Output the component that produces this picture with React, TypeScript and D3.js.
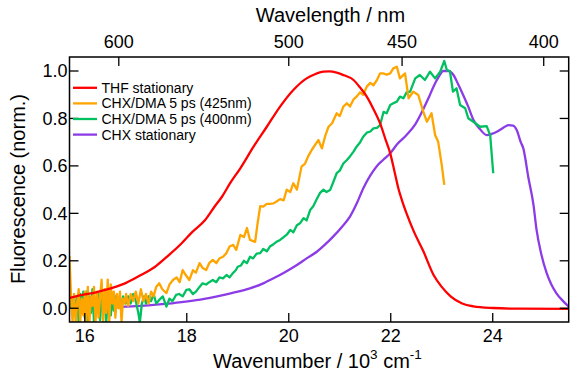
import React from "react";
import * as d3 from "d3";

// ---------- data ----------
const seriesNames = ["THF stationary", "CHX/DMA 5 ps (425nm)", "CHX/DMA 5 ps (400nm)", "CHX stationary"];
const seriesColors = ["#ff0000", "#ffa500", "#00c060", "#8c3ce6"];

const thfX = [15.7, 15.81, 16.0, 16.2, 16.4, 16.6, 16.8, 16.92, 17.1, 17.38, 17.6, 17.9, 18.1, 18.36, 18.55, 18.69, 18.85, 19.05, 19.31, 19.57, 19.83, 20.09, 20.35, 20.5, 20.68, 20.8, 20.94, 21.05, 21.27, 21.4, 21.53, 21.66, 21.79, 21.9, 21.99, 22.07, 22.15, 22.22, 22.31, 22.45, 22.64, 22.84, 23.0, 23.18, 23.4, 23.62, 24.0, 24.5, 25.5];
const thfY = [0.043, 0.049, 0.058, 0.066, 0.077, 0.09, 0.106, 0.119, 0.14, 0.175, 0.215, 0.274, 0.32, 0.372, 0.43, 0.47, 0.527, 0.59, 0.681, 0.765, 0.85, 0.92, 0.969, 0.985, 0.997, 0.998, 0.993, 0.985, 0.962, 0.93, 0.892, 0.84, 0.78, 0.71, 0.653, 0.58, 0.505, 0.455, 0.4, 0.325, 0.24, 0.14, 0.09, 0.049, 0.02, 0.008, 0.001, -0.002, -0.003];

const dma425X = [15.7, 15.73, 15.76, 15.79, 15.82, 15.85, 15.88, 15.91, 15.94, 15.97, 16.0, 16.03, 16.06, 16.09, 16.12, 16.15, 16.18, 16.21, 16.24, 16.27, 16.3, 16.33, 16.36, 16.39, 16.42, 16.45, 16.48, 16.51, 16.54, 16.57, 16.6, 16.63, 16.66, 16.69, 16.72, 16.75, 16.78, 16.81, 16.85, 16.9, 16.95, 17.0, 17.05, 17.1, 17.15, 17.2, 17.25, 17.3, 17.35, 17.4, 17.46, 17.52, 17.6, 17.66, 17.73, 17.8, 17.86, 17.92, 17.98, 18.05, 18.12, 18.18, 18.25, 18.31, 18.38, 18.44, 18.51, 18.58, 18.64, 18.71, 18.77, 18.84, 18.91, 18.97, 19.05, 19.12, 19.18, 19.24, 19.34, 19.39, 19.44, 19.5, 19.57, 19.63, 19.7, 19.76, 19.83, 19.9, 19.96, 20.03, 20.09, 20.16, 20.25, 20.32, 20.38, 20.45, 20.52, 20.58, 20.65, 20.72, 20.78, 20.85, 20.94, 21.0, 21.07, 21.14, 21.2, 21.27, 21.33, 21.4, 21.46, 21.53, 21.6, 21.66, 21.73, 21.79, 21.85, 21.92, 21.99, 22.05, 22.12, 22.18, 22.28, 22.35, 22.44, 22.54, 22.64, 22.71, 22.8, 22.87, 22.93, 23.0, 23.05];
const dma425Y = [0.22, 0.05, -0.06, 0.06, -0.06, 0.02, 0.08, -0.06, 0.04, -0.03, 0.07, -0.06, 0.09, -0.06, 0.05, 0.01, 0.09, -0.06, 0.07, -0.04, 0.05, 0.12, -0.06, 0.08, -0.02, 0.12, -0.06, 0.1, 0.02, 0.07, -0.04, 0.06, 0.0, 0.07, -0.06, 0.04, 0.02, 0.06, 0.01, 0.06, 0.03, 0.07, 0.02, 0.08, 0.03, 0.06, 0.02, 0.07, 0.05, 0.09, 0.105, 0.08, 0.064, 0.1, 0.119, 0.13, 0.11, 0.161, 0.14, 0.119, 0.16, 0.15, 0.19, 0.17, 0.161, 0.19, 0.204, 0.19, 0.21, 0.217, 0.23, 0.26, 0.267, 0.246, 0.309, 0.3, 0.338, 0.288, 0.28, 0.36, 0.43, 0.428, 0.44, 0.44, 0.442, 0.45, 0.46, 0.455, 0.5, 0.49, 0.527, 0.5, 0.597, 0.61, 0.64, 0.667, 0.69, 0.709, 0.674, 0.73, 0.765, 0.78, 0.822, 0.81, 0.85, 0.864, 0.85, 0.88, 0.892, 0.91, 0.9, 0.934, 0.95, 0.94, 0.962, 0.99, 0.99, 0.985, 0.99, 1.011, 1.018, 0.969, 0.99, 0.885, 0.913, 0.899, 0.828, 0.786, 0.822, 0.73, 0.702, 0.604, 0.52];

const dma400X = [15.7, 15.73, 15.76, 15.79, 15.82, 15.85, 15.88, 15.91, 15.94, 15.97, 16.0, 16.03, 16.06, 16.09, 16.12, 16.15, 16.18, 16.21, 16.24, 16.27, 16.3, 16.33, 16.36, 16.39, 16.42, 16.45, 16.48, 16.51, 16.54, 16.57, 16.6, 16.63, 16.66, 16.7, 16.75, 16.8, 16.85, 16.9, 16.95, 17.0, 17.05, 17.08, 17.12, 17.16, 17.2, 17.25, 17.3, 17.35, 17.4, 17.46, 17.53, 17.6, 17.66, 17.72, 17.79, 17.85, 17.92, 17.99, 18.05, 18.12, 18.18, 18.25, 18.31, 18.38, 18.44, 18.51, 18.58, 18.64, 18.71, 18.78, 18.84, 18.9, 18.96, 19.0, 19.06, 19.12, 19.18, 19.24, 19.3, 19.37, 19.44, 19.5, 19.57, 19.63, 19.7, 19.76, 19.83, 19.9, 19.96, 20.03, 20.09, 20.16, 20.22, 20.29, 20.35, 20.42, 20.48, 20.55, 20.61, 20.68, 20.74, 20.81, 20.87, 20.94, 21.0, 21.07, 21.14, 21.2, 21.27, 21.33, 21.4, 21.46, 21.53, 21.6, 21.66, 21.73, 21.79, 21.86, 21.92, 21.99, 22.05, 22.12, 22.18, 22.25, 22.31, 22.38, 22.48, 22.57, 22.67, 22.77, 22.87, 22.97, 23.05, 23.1, 23.16, 23.22, 23.29, 23.36, 23.46, 23.52, 23.62, 23.75, 23.88, 23.95, 24.01];
const dma400Y = [0.0, 0.05, -0.02, 0.04, 0.0, 0.05, -0.06, 0.06, 0.0, 0.07, -0.04, 0.07, -0.06, 0.05, -0.02, 0.08, -0.06, 0.04, 0.0, 0.06, -0.05, 0.04, 0.0, 0.05, -0.06, 0.03, 0.06, -0.03, 0.04, -0.01, 0.05, 0.01, 0.04, 0.0, 0.05, 0.02, 0.05, 0.02, 0.06, 0.03, -0.02, -0.06, 0.02, 0.05, 0.02, 0.05, 0.03, 0.06, 0.02, 0.035, 0.05, 0.007, 0.04, 0.03, 0.056, 0.06, 0.05, 0.077, 0.08, 0.06, 0.07, 0.09, 0.105, 0.1, 0.11, 0.119, 0.11, 0.13, 0.126, 0.14, 0.13, 0.147, 0.16, 0.175, 0.18, 0.2, 0.19, 0.217, 0.21, 0.23, 0.232, 0.25, 0.24, 0.26, 0.27, 0.28, 0.288, 0.3, 0.31, 0.33, 0.32, 0.35, 0.358, 0.38, 0.37, 0.414, 0.43, 0.46, 0.485, 0.5, 0.49, 0.498, 0.53, 0.569, 0.58, 0.61, 0.625, 0.64, 0.66, 0.681, 0.7, 0.723, 0.74, 0.745, 0.758, 0.76, 0.772, 0.828, 0.822, 0.857, 0.864, 0.871, 0.892, 0.885, 0.91, 0.913, 0.969, 0.983, 0.962, 0.997, 0.969, 0.997, 1.042, 1.004, 1.0, 0.913, 0.927, 0.857, 0.843, 0.801, 0.786, 0.765, 0.768, 0.73, 0.569];

const chxX = [15.7, 16.0, 16.5, 16.92, 17.25, 17.57, 17.9, 18.23, 18.55, 18.88, 19.24, 19.5, 19.7, 19.95, 20.16, 20.35, 20.55, 20.72, 20.87, 21.05, 21.2, 21.33, 21.46, 21.6, 21.73, 21.85, 21.99, 22.12, 22.31, 22.48, 22.64, 22.75, 22.84, 22.94, 23.03, 23.13, 23.23, 23.32, 23.42, 23.52, 23.62, 23.75, 23.88, 23.98, 24.08, 24.2, 24.31, 24.4, 24.47, 24.55, 24.6, 24.7, 24.8, 24.86, 24.95, 25.06, 25.15, 25.25, 25.38, 25.49];
const chxY = [0.003, 0.004, 0.005, 0.008, 0.012, 0.018, 0.026, 0.035, 0.048, 0.064, 0.084, 0.105, 0.126, 0.155, 0.182, 0.21, 0.238, 0.27, 0.302, 0.345, 0.386, 0.44, 0.505, 0.56, 0.6, 0.625, 0.653, 0.69, 0.73, 0.775, 0.84, 0.89, 0.935, 0.975, 1.0, 1.0, 0.983, 0.945, 0.899, 0.85, 0.795, 0.755, 0.73, 0.735, 0.744, 0.76, 0.772, 0.77, 0.751, 0.7, 0.674, 0.55, 0.435, 0.33, 0.23, 0.147, 0.1, 0.063, 0.03, 0.007];

const yTicks = [0.0, 0.2, 0.4, 0.6, 0.8, 1.0];
const xTicks = [16, 18, 20, 22, 24];
const topTicksNm = [600, 500, 450, 400];

// ---------- layout ----------
const W = 571, H = 373;
const L = 69.5, R = 568.7, T = 57, B = 322;

export default function App() {
  const x = d3.scaleLinear().domain([15.7, 25.49]).range([L, R]);
  const y = d3.scaleLinear().domain([-0.058, 1.059]).range([B, T]);
  const smooth = d3.line<[number, number]>().x(d => x(d[0])).y(d => y(d[1])).curve(d3.curveMonotoneX);
  const raw = d3.line<[number, number]>().x(d => x(d[0])).y(d => y(d[1]));

  const series = [
    { name: seriesNames[0], color: seriesColors[0], xs: thfX, ys: thfY, smooth: true },
    { name: seriesNames[1], color: seriesColors[1], xs: dma425X, ys: dma425Y, smooth: false },
    { name: seriesNames[2], color: seriesColors[2], xs: dma400X, ys: dma400Y, smooth: false },
    { name: seriesNames[3], color: seriesColors[3], xs: chxX, ys: chxY, smooth: true },
  ];
  const drawOrder = [3, 2, 1, 0];
  const font = "'Liberation Sans', Arial, Helvetica, sans-serif";
  const tickLen = 9;

  return (
    <svg width={W} height={H} style={{ position: "absolute", left: 0, top: 0, fontFamily: font }}>
      <rect x={0} y={0} width={W} height={H} fill="#fff" />
      <defs>
        <clipPath id="plotclip">
          <rect x={L} y={T} width={R - L} height={B - T} />
        </clipPath>
      </defs>
      <g clipPath="url(#plotclip)">
        {drawOrder.map(i => {
          const s = series[i];
          const pts = s.xs.map((v, k) => [v, s.ys[k]] as [number, number]);
          const gen = s.smooth ? smooth : raw;
          return <path key={i} d={gen(pts) || ""} fill="none" stroke={s.color} strokeWidth={2.3} strokeLinejoin="round" />;
        })}
      </g>
      <rect x={L} y={T} width={R - L} height={B - T} fill="none" stroke="#000" strokeWidth={1.5} />
      {yTicks.map(t => (
        <g key={"y" + t}>
          <line x1={L} x2={L + tickLen} y1={y(t)} y2={y(t)} stroke="#000" strokeWidth={1.3} />
          <line x1={R} x2={R - tickLen} y1={y(t)} y2={y(t)} stroke="#000" strokeWidth={1.3} />
          <text x={L - 2} y={y(t) + 6.5} textAnchor="end" fontSize={18}>{t.toFixed(1)}</text>
        </g>
      ))}
      {xTicks.map(t => (
        <g key={"x" + t}>
          <line x1={x(t)} x2={x(t)} y1={B} y2={B - tickLen} stroke="#000" strokeWidth={1.3} />
          <text x={x(t)} y={B + 20} textAnchor="middle" fontSize={18}>{t}</text>
        </g>
      ))}
      {topTicksNm.map(nm => (
        <g key={"t" + nm}>
          <line x1={x(10000 / nm)} x2={x(10000 / nm)} y1={T} y2={T + tickLen} stroke="#000" strokeWidth={1.3} />
          <text x={x(10000 / nm)} y={T - 9} textAnchor="middle" fontSize={18}>{nm}</text>
        </g>
      ))}
      <text x={330.5} y={22} textAnchor="middle" fontSize={20}>Wavelength / nm</text>
      <text x={213} y={368} textAnchor="start" fontSize={20}>
        Wavenumber / 10<tspan dy={-9} fontSize={13.5}>3</tspan><tspan dy={9}> cm</tspan><tspan dy={-9} fontSize={13.5}>-1</tspan>
      </text>
      <text transform={`translate(25, 189) rotate(-90)`} textAnchor="middle" fontSize={20}>Fluorescence (norm.)</text>
      {series.map((s, i) => {
        const cy = 87.8 + i * 15.6;
        return (
          <g key={"lg" + i}>
            <line x1={73} x2={97} y1={cy} y2={cy} stroke={s.color} strokeWidth={2.3} />
            <text x={101.5} y={cy + 5} fontSize={14}>{s.name}</text>
          </g>
        );
      })}
    </svg>
  );
}
